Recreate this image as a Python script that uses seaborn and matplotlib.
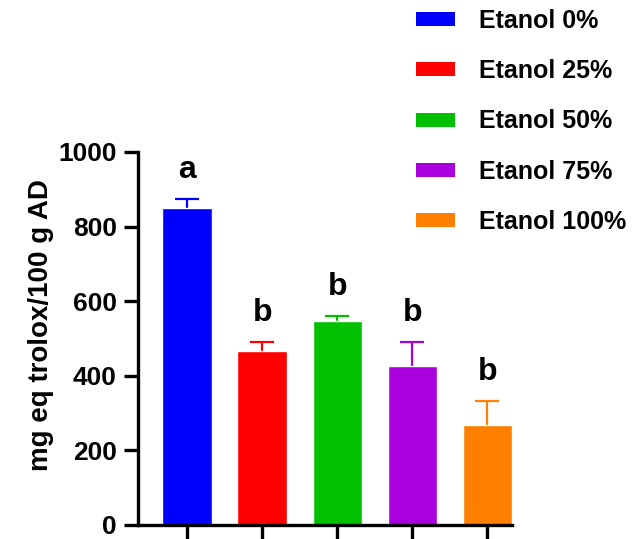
import matplotlib
matplotlib.use("Agg")
import matplotlib.pyplot as plt
import seaborn as sns
import numpy as np
from matplotlib.patches import Patch

categories = ["Etanol 0%", "Etanol 25%", "Etanol 50%", "Etanol 75%", "Etanol 100%"]
means = [851, 467, 548, 427, 267]
errors = [23, 24, 13, 64, 66]
letters = ["a", "b", "b", "b", "b"]
colors = ["#0000FF", "#FF0000", "#00C000", "#AA00E0", "#FF8000"]
y_ticks = [0, 200, 400, 600, 800, 1000]

sns.set_theme(style="white")
plt.rcParams['font.family'] = ['Liberation Sans', 'DejaVu Sans']
plt.rcParams['font.weight'] = 'bold'
for k in ['text.color', 'axes.labelcolor', 'xtick.color', 'ytick.color']:
    plt.rcParams[k] = 'black'

fig = plt.figure(figsize=(6.33, 5.39), dpi=100)
ax = fig.add_axes([0.2175, 0.026, 0.809 - 0.2175, 0.692])

sns.barplot(x=categories, y=means, hue=categories, palette=colors,
            legend=False, width=0.66, ax=ax, saturation=1)

xs = np.arange(len(categories))
for x, m, e, c, l in zip(xs, means, errors, colors, letters):
    eb = ax.errorbar(x, m, yerr=[[0], [e]], fmt='none', ecolor=c,
                     elinewidth=1.6, capsize=8.5, capthick=1.6, zorder=0.5)
    caps = eb[1]
    if len(caps) > 1:
        caps[0].remove()
    ax.text(x, m + e + 38, l, ha='center', va='bottom', fontsize=23,
            fontweight='bold', color='black')

ax.set_xlim(-0.66, 4.33)
ax.set_ylim(0, 1000)
ax.set_yticks(y_ticks)
ax.set_yticklabels([str(t) for t in y_ticks])
ax.set_xticks(xs)
ax.set_xticklabels([""] * len(xs))
ax.set_xlabel("")
ax.set_ylabel("mg eq trolox/100 g AD", fontsize=20, fontweight='bold')
ax.yaxis.set_label_coords(-0.224, 0.536)
ax.tick_params(axis='y', labelsize=19, length=10, width=2.4, direction='out',
               left=True, pad=5)
ax.tick_params(axis='x', length=10, width=2.4, direction='out', bottom=True)
for lab in ax.get_yticklabels():
    lab.set_fontweight('bold')
sns.despine(ax=ax)
for s in ['left', 'bottom']:
    ax.spines[s].set_linewidth(2.4)
    ax.spines[s].set_color('black')
ax.spines['left'].set_bounds(0, 1000)

handles = [Patch(facecolor=c, edgecolor='none') for c in colors]
leg = fig.legend(handles, categories, loc='upper left',
                 bbox_to_anchor=(416 / 633, 1 - 9 / 539),
                 bbox_transform=fig.transFigure, frameon=False,
                 borderaxespad=0, borderpad=0,
                 handlelength=1.56, handleheight=0.48, handletextpad=0.96,
                 labelspacing=1.05, prop={'size': 18, 'weight': 'bold'})

fig.savefig("out.png", dpi=100)
